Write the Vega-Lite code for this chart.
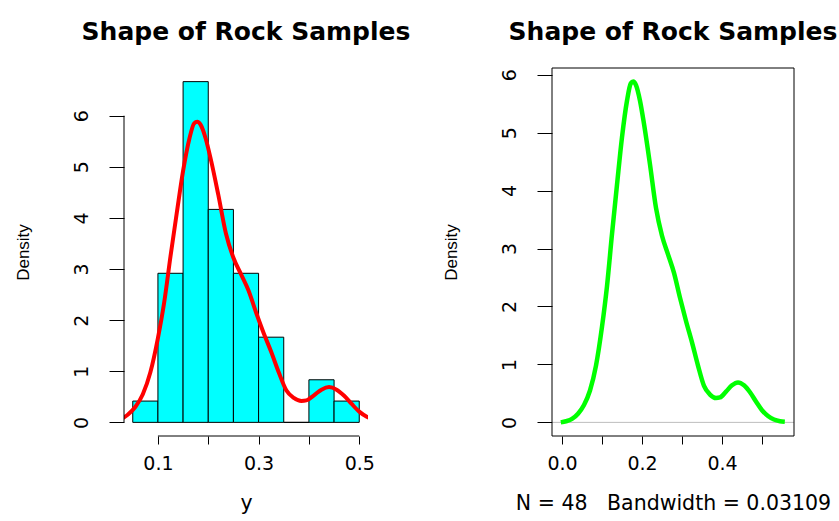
{
  "$schema": "https://vega.github.io/schema/vega-lite/v6.json",
  "background": "white",
  "padding": {"left": 14, "top": 19, "right": 0, "bottom": 0},
  "datasets": {
    "hist": [
      {"bin_start": 0.05, "bin_end": 0.10, "density": 0.4167},
      {"bin_start": 0.10, "bin_end": 0.15, "density": 2.9167},
      {"bin_start": 0.15, "bin_end": 0.20, "density": 6.6667},
      {"bin_start": 0.20, "bin_end": 0.25, "density": 4.1667},
      {"bin_start": 0.25, "bin_end": 0.30, "density": 2.9167},
      {"bin_start": 0.30, "bin_end": 0.35, "density": 1.6667},
      {"bin_start": 0.35, "bin_end": 0.40, "density": 0},
      {"bin_start": 0.40, "bin_end": 0.45, "density": 0.8333},
      {"bin_start": 0.45, "bin_end": 0.50, "density": 0.4167}
    ],
    "dens": [
      {"x": -0.003, "density": 0.0},
      {"x": 0.01, "density": 0.02},
      {"x": 0.025, "density": 0.06},
      {"x": 0.04, "density": 0.15},
      {"x": 0.055, "density": 0.30},
      {"x": 0.07, "density": 0.55},
      {"x": 0.085, "density": 0.98},
      {"x": 0.10, "density": 1.65},
      {"x": 0.1125, "density": 2.35},
      {"x": 0.125, "density": 3.25},
      {"x": 0.1375, "density": 4.10},
      {"x": 0.15, "density": 4.92},
      {"x": 0.1625, "density": 5.55},
      {"x": 0.172, "density": 5.85},
      {"x": 0.178, "density": 5.88},
      {"x": 0.185, "density": 5.82},
      {"x": 0.195, "density": 5.55},
      {"x": 0.205, "density": 5.15},
      {"x": 0.22, "density": 4.45},
      {"x": 0.235, "density": 3.70},
      {"x": 0.25, "density": 3.22},
      {"x": 0.265, "density": 2.90},
      {"x": 0.28, "density": 2.58},
      {"x": 0.295, "density": 2.15},
      {"x": 0.31, "density": 1.75},
      {"x": 0.325, "density": 1.38},
      {"x": 0.34, "density": 0.98},
      {"x": 0.355, "density": 0.63},
      {"x": 0.37, "density": 0.48},
      {"x": 0.385, "density": 0.42},
      {"x": 0.395, "density": 0.43},
      {"x": 0.41, "density": 0.53},
      {"x": 0.425, "density": 0.64},
      {"x": 0.44, "density": 0.69},
      {"x": 0.455, "density": 0.64},
      {"x": 0.47, "density": 0.52},
      {"x": 0.485, "density": 0.36},
      {"x": 0.50, "density": 0.21},
      {"x": 0.515, "density": 0.11},
      {"x": 0.53, "density": 0.05},
      {"x": 0.545, "density": 0.02},
      {"x": 0.557, "density": 0.01}
    ]
  },
  "config": {
    "view": {"stroke": null},
    "axis": {"grid": false, "domain": false, "tickColor": "black", "tickWidth": 1, "labelColor": "black", "labelFont": "DejaVu Sans", "labelFontSize": 19, "titleColor": "black", "titleFontWeight": "normal", "labelOverlap": false, "labelFlush": false},
    "axisX": {"tickSize": 8, "labelPadding": 10, "titleFont": "DejaVu Sans", "titleFontSize": 20.5, "titlePadding": 20},
    "axisY": {"tickSize": 15, "labelAngle": -90, "labelAlign": "center", "labelBaseline": "bottom", "labelPadding": 18, "format": "d", "titleFont": "Liberation Sans", "titleFontSize": 17, "titlePadding": 40}
  },
  "spacing": 184,
  "bounds": "flush",
  "hconcat": [
    {
      "width": 244,
      "height": 368,
      "title": {"text": "Shape of Rock Samples", "font": "DejaVu Sans", "fontSize": 25, "fontWeight": "bold", "color": "black", "frame": "group", "offset": 23},
      "layer": [
        {
          "data": {"name": "hist"},
          "mark": {"type": "rect", "fill": "#00FFFF", "stroke": "black", "strokeWidth": 1},
          "encoding": {
            "x": {"field": "bin_start", "type": "quantitative", "title": "y", "scale": {"domain": [0.0326, 0.5174], "nice": false, "zero": false}, "axis": {"values": [0.1, 0.2, 0.3, 0.4, 0.5], "labelExpr": "datum.value == 0.2 || datum.value == 0.4 ? '' : format(datum.value, '.1f')"}},
            "x2": {"field": "bin_end"},
            "y": {"field": "density", "type": "quantitative", "title": "Density", "scale": {"domain": [-0.2667, 6.9333], "nice": false, "zero": false}, "axis": {"values": [0, 1, 2, 3, 4, 5, 6]}},
            "y2": {"datum": 0}
          }
        },
        {
          "data": {"name": "dens"},
          "mark": {"type": "line", "color": "#FF0000", "strokeWidth": 4, "clip": true, "interpolate": "monotone"},
          "encoding": {
            "x": {"field": "x", "type": "quantitative", "title": "y"},
            "y": {"field": "density", "type": "quantitative", "title": "Density"}
          }
        },
        {
          "data": {"values": [{}]},
          "mark": {"type": "rule", "color": "black", "strokeWidth": 1},
          "encoding": {"x": {"datum": 0.1}, "x2": {"datum": 0.5}, "y": {"datum": -0.2667}}
        },
        {
          "data": {"values": [{}]},
          "mark": {"type": "rule", "color": "black", "strokeWidth": 1},
          "encoding": {"x": {"datum": 0.0326}, "y": {"datum": 0}, "y2": {"datum": 6}}
        }
      ]
    },
    {
      "width": 242,
      "height": 368,
      "title": {"text": "Shape of Rock Samples", "font": "DejaVu Sans", "fontSize": 25, "fontWeight": "bold", "color": "black", "frame": "group", "offset": 23},
      "layer": [
        {
          "data": {"values": [{}]},
          "mark": {"type": "rule", "color": "#BEBEBE", "strokeWidth": 1},
          "encoding": {"y": {"datum": 0}}
        },
        {
          "data": {"name": "dens"},
          "mark": {"type": "line", "color": "#00FF00", "strokeWidth": 4.5, "interpolate": "monotone"},
          "encoding": {
            "x": {"field": "x", "type": "quantitative", "title": "N = 48\u00a0\u00a0\u00a0Bandwidth = 0.03109", "scale": {"domain": [-0.025, 0.58], "nice": false, "zero": false}, "axis": {"values": [0, 0.1, 0.2, 0.3, 0.4, 0.5], "labelExpr": "datum.value == 0.1 || datum.value == 0.3 || datum.value == 0.5 ? '' : format(datum.value, '.1f')"}},
            "y": {"field": "density", "type": "quantitative", "title": "Density", "scale": {"domain": [-0.235, 6.115], "nice": false, "zero": false}, "axis": {"values": [0, 1, 2, 3, 4, 5, 6]}}
          }
        },
        {
          "data": {"values": [{}]},
          "mark": {"type": "rect", "fill": null, "stroke": "black", "strokeWidth": 1},
          "encoding": {"x": {"datum": -0.025}, "x2": {"datum": 0.58}, "y": {"datum": -0.235}, "y2": {"datum": 6.115}}
        }
      ]
    }
  ]
}
